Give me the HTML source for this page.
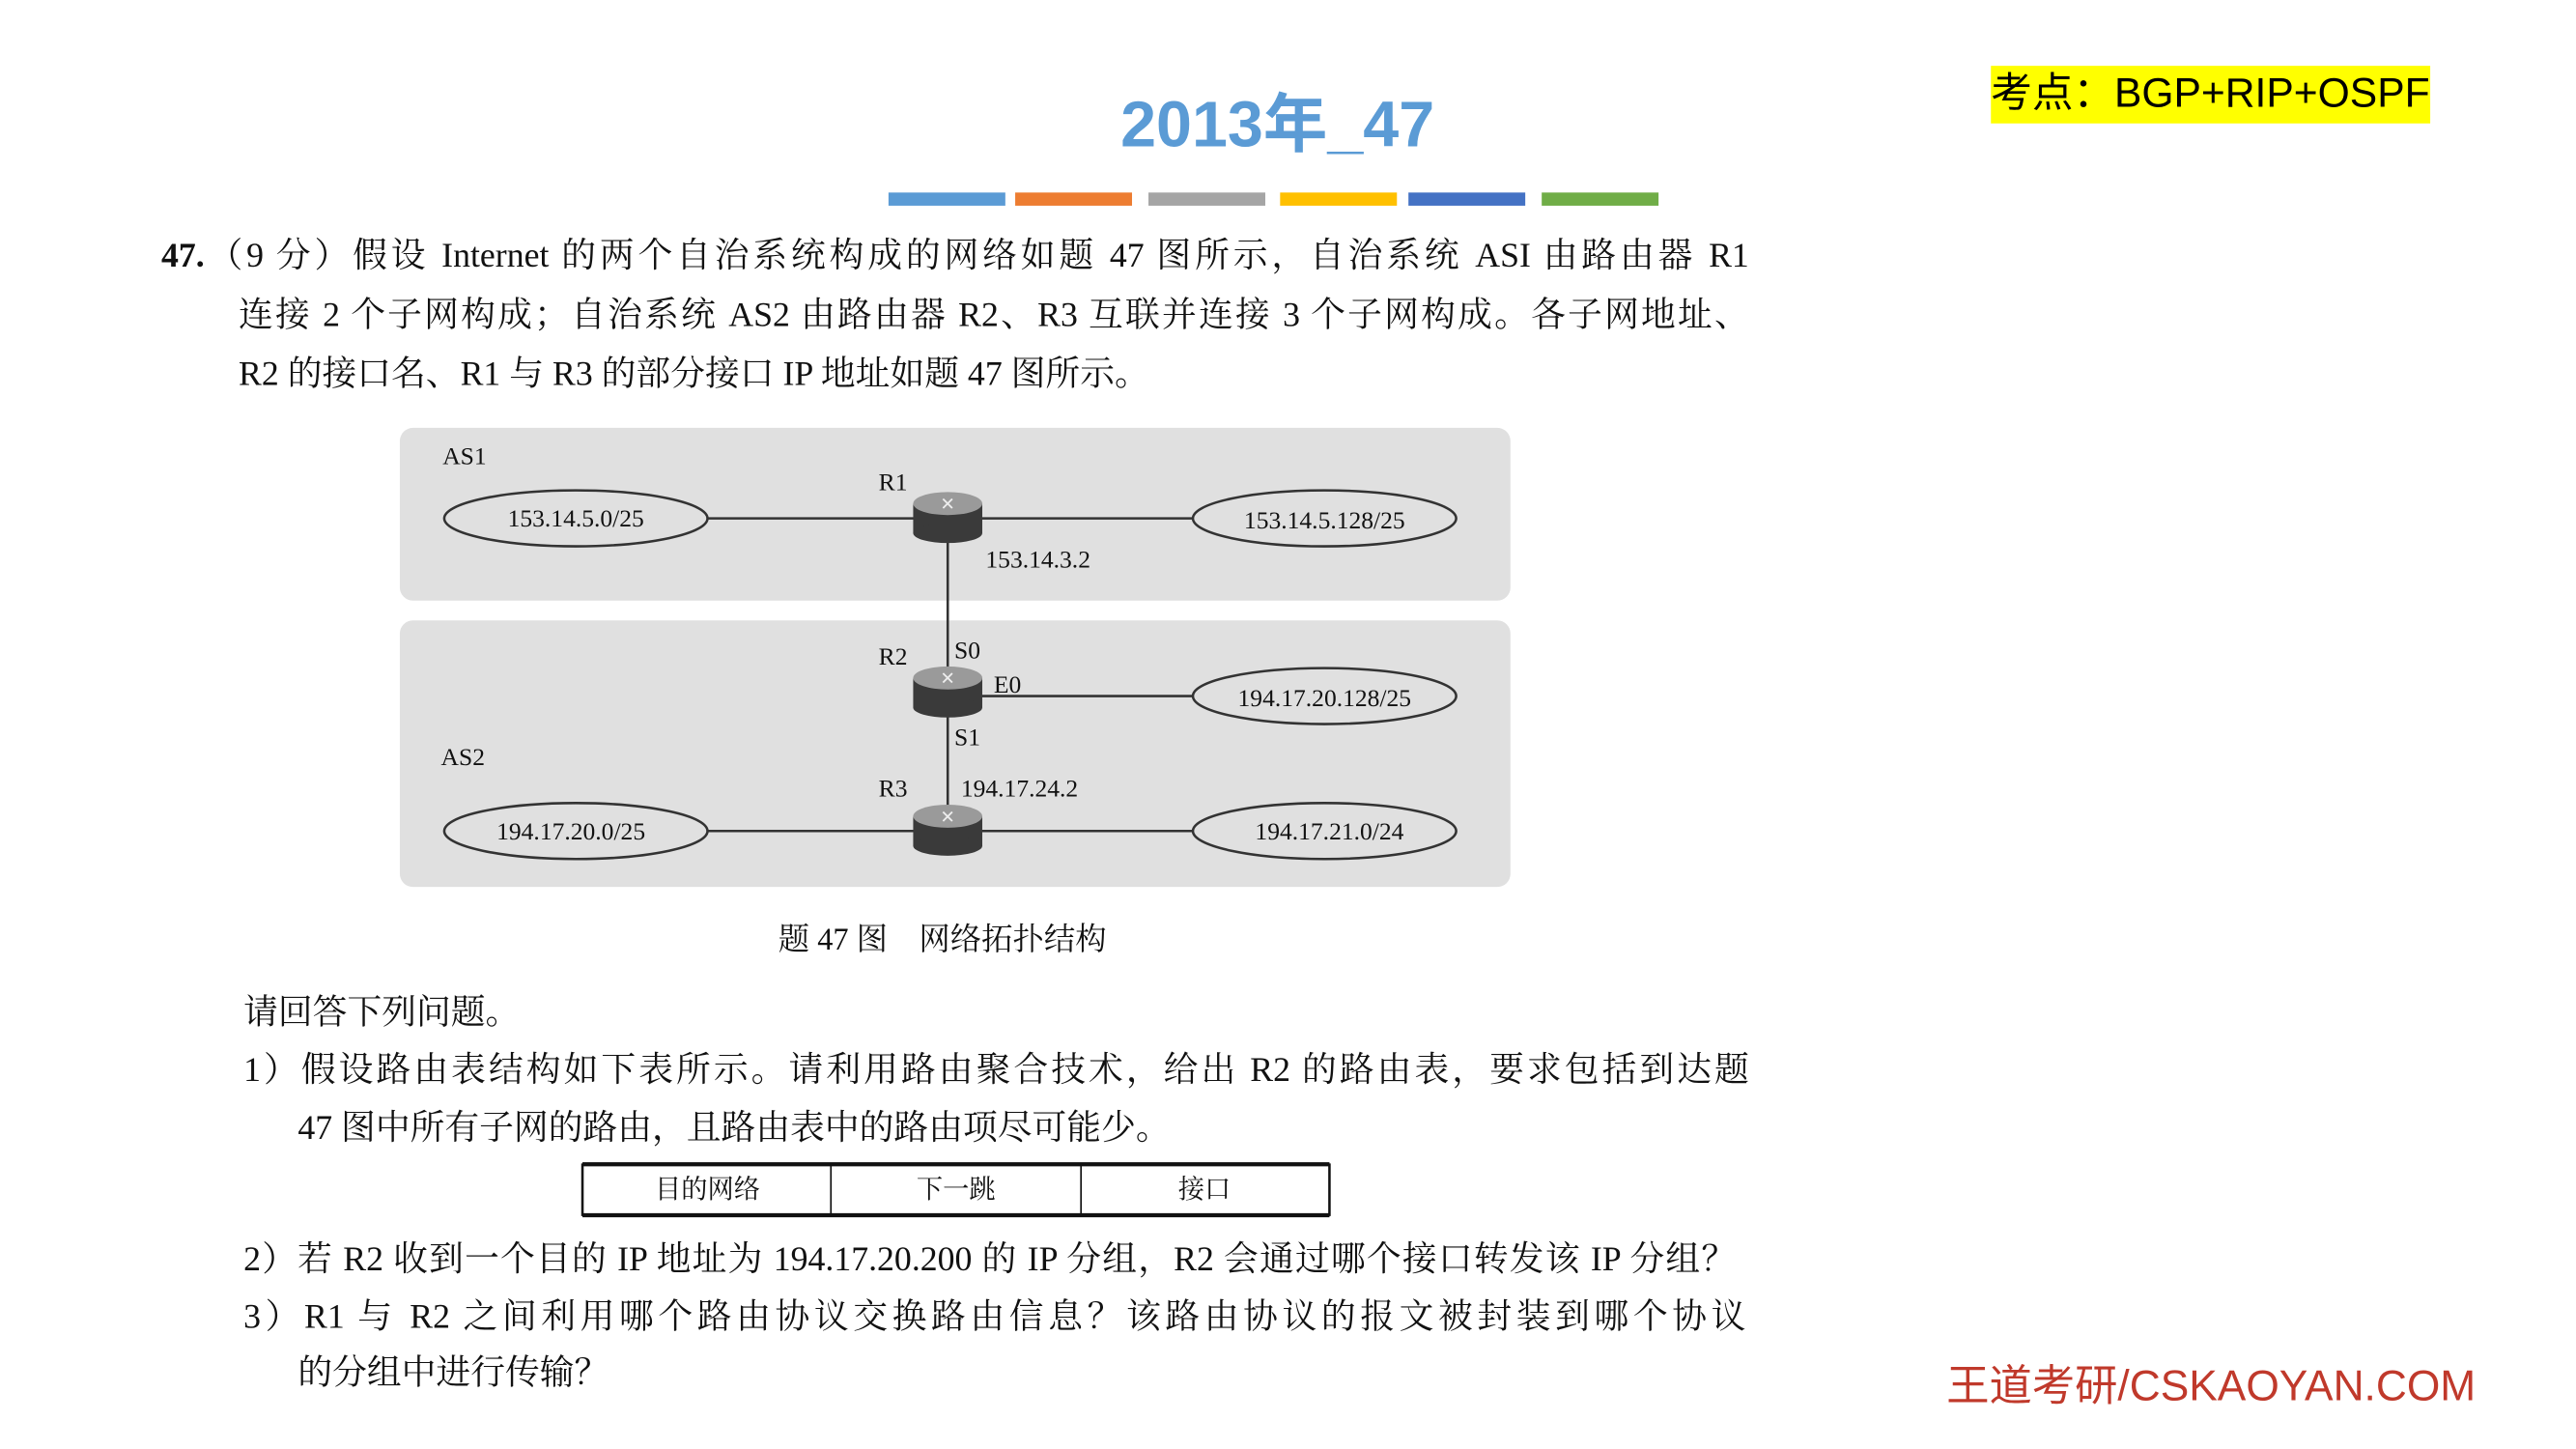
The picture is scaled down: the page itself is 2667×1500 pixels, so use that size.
<!DOCTYPE html>
<html><head><meta charset="utf-8">
<style>
html,body{margin:0;padding:0;background:#fff;}
body{width:2667px;height:1500px;overflow:hidden;position:relative;}
#w{position:absolute;left:0;top:0;width:1545px;height:869px;transform:scale(1.7035);transform-origin:0 0;}
.a{position:absolute;white-space:nowrap;}
.t{font-family:"Liberation Serif","Noto Serif CJK SC",serif;font-size:21px;color:#111;line-height:24px;}
.j{text-align:justify;text-align-last:justify;white-space:normal;}
</style></head><body>
<div id="w">
<div class="a" style="left:681px;top:53px;font-family:'Liberation Sans','Noto Sans CJK SC',sans-serif;font-weight:bold;font-size:39px;color:#5b9bd5;line-height:48px;">2013年_47</div>
<div class="a" style="left:540px;top:117px;width:71px;height:8px;background:#5b9bd5"></div>
<div class="a" style="left:617px;top:117px;width:71px;height:8px;background:#ed7d31"></div>
<div class="a" style="left:698px;top:117px;width:71px;height:8px;background:#a5a5a5"></div>
<div class="a" style="left:778px;top:117px;width:71px;height:8px;background:#ffc000"></div>
<div class="a" style="left:856px;top:117px;width:71px;height:8px;background:#4472c4"></div>
<div class="a" style="left:937px;top:117px;width:71px;height:8px;background:#70ad47"></div>
<div class="a" style="left:1210px;top:40px;width:267px;height:35px;background:#ffff00;font-family:'Liberation Sans','Noto Sans CJK SC',sans-serif;font-size:25px;line-height:35px;color:#000;">考点：BGP+RIP+OSPF</div>

<div class="a t j" style="left:98px;top:143px;width:965px;"><b>47.</b>（9 分）假设 Internet 的两个自治系统构成的网络如题 47 图所示，自治系统 ASI 由路由器 R1</div>
<div class="a t j" style="left:145px;top:179px;width:918px;">连接 2 个子网构成；自治系统 AS2 由路由器 R2、R3 互联并连接 3 个子网构成。各子网地址、</div>
<div class="a t" style="left:145px;top:215px;">R2 的接口名、R1 与 R3 的部分接口 IP 地址如题 47 图所示。</div>

<svg class="a" style="left:0;top:0" width="1545" height="869" font-family="Liberation Serif,serif" font-size="15" fill="#111">
<rect x="243" y="260" width="675" height="105" rx="8" fill="#e0e0e0"/>
<rect x="243" y="377" width="675" height="162" rx="8" fill="#e0e0e0"/>
<g stroke="#333" stroke-width="1.5" fill="none">
<line x1="430" y1="315" x2="725" y2="315"/>
<line x1="576" y1="315" x2="576" y2="503"/>
<line x1="576" y1="423" x2="725" y2="423"/>
<line x1="430" y1="505" x2="725" y2="505"/>
<ellipse cx="350" cy="315" rx="80" ry="17" fill="#e0e0e0"/>
<ellipse cx="805" cy="315" rx="80" ry="17" fill="#e0e0e0"/>
<ellipse cx="805" cy="423" rx="80" ry="17" fill="#e0e0e0"/>
<ellipse cx="350" cy="505" rx="80" ry="17" fill="#e0e0e0"/>
<ellipse cx="805" cy="505" rx="80" ry="17" fill="#e0e0e0"/>
</g>
<g>
<g transform="translate(576,306)"><rect x="-21" y="0" width="42" height="18" fill="#3a3a3a"/><ellipse cx="0" cy="18" rx="21" ry="6" fill="#3a3a3a"/><ellipse cx="0" cy="0" rx="21" ry="7" fill="#9a9a9a"/><text x="0" y="4" font-size="11" fill="#eee" text-anchor="middle">✕</text></g>
<g transform="translate(576,412)"><rect x="-21" y="0" width="42" height="18" fill="#3a3a3a"/><ellipse cx="0" cy="18" rx="21" ry="6" fill="#3a3a3a"/><ellipse cx="0" cy="0" rx="21" ry="7" fill="#9a9a9a"/><text x="0" y="4" font-size="11" fill="#eee" text-anchor="middle">✕</text></g>
<g transform="translate(576,496)"><rect x="-21" y="0" width="42" height="18" fill="#3a3a3a"/><ellipse cx="0" cy="18" rx="21" ry="6" fill="#3a3a3a"/><ellipse cx="0" cy="0" rx="21" ry="7" fill="#9a9a9a"/><text x="0" y="4" font-size="11" fill="#eee" text-anchor="middle">✕</text></g>
</g>
<text x="269" y="282">AS1</text>
<text x="268" y="465">AS2</text>
<text x="534" y="298">R1</text>
<text x="534" y="404">R2</text>
<text x="534" y="484">R3</text>
<text x="599" y="345">153.14.3.2</text>
<text x="580" y="400">S0</text>
<text x="604" y="421">E0</text>
<text x="580" y="453">S1</text>
<text x="584" y="484">194.17.24.2</text>
<text x="350" y="320" text-anchor="middle">153.14.5.0/25</text>
<text x="805" y="321" text-anchor="middle">153.14.5.128/25</text>
<text x="805" y="429" text-anchor="middle">194.17.20.128/25</text>
<text x="347" y="510" text-anchor="middle">194.17.20.0/25</text>
<text x="808" y="510" text-anchor="middle">194.17.21.0/24</text>
<g stroke="#111" fill="none"><line x1="354" y1="707.5" x2="808" y2="707.5" stroke-width="2.5"/><line x1="354" y1="738.5" x2="808" y2="738.5" stroke-width="2.5"/><line x1="354" y1="707" x2="354" y2="739" stroke-width="1.5"/><line x1="808" y1="707" x2="808" y2="739" stroke-width="1.5"/><line x1="505" y1="707" x2="505" y2="739"/><line x1="657" y1="707" x2="657" y2="739"/></g>
<g font-family="Liberation Serif,Noto Serif CJK SC,serif" font-size="16" text-anchor="middle"><text x="430" y="728">目的网络</text><text x="581" y="728">下一跳</text><text x="732" y="728">接口</text></g>
</svg>

<div class="a t" style="left:473px;top:560px;font-size:19px;">题 47 图　网络拓扑结构</div>
<div class="a t" style="left:148px;top:603px;">请回答下列问题。</div>
<div class="a t j" style="left:148px;top:638px;width:915px;">1）假设路由表结构如下表所示。请利用路由聚合技术，给出 R2 的路由表，要求包括到达题</div>
<div class="a t" style="left:181px;top:673px;">47 图中所有子网的路由，且路由表中的路由项尽可能少。</div>
<div class="a t j" style="left:148px;top:753px;width:907px;">2）若 R2 收到一个目的 IP 地址为 194.17.20.200 的 IP 分组，R2 会通过哪个接口转发该 IP 分组？</div>
<div class="a t j" style="left:148px;top:788px;width:913px;">3）R1 与 R2 之间利用哪个路由协议交换路由信息？该路由协议的报文被封装到哪个协议</div>
<div class="a t" style="left:181px;top:822px;">的分组中进行传输？</div>
<div class="a" style="left:1183px;top:826px;font-family:'Liberation Sans','Noto Sans CJK SC',sans-serif;font-size:26px;color:#c0392b;line-height:32px;">王道考研/CSKAOYAN.COM</div>
</div>
</body></html>
